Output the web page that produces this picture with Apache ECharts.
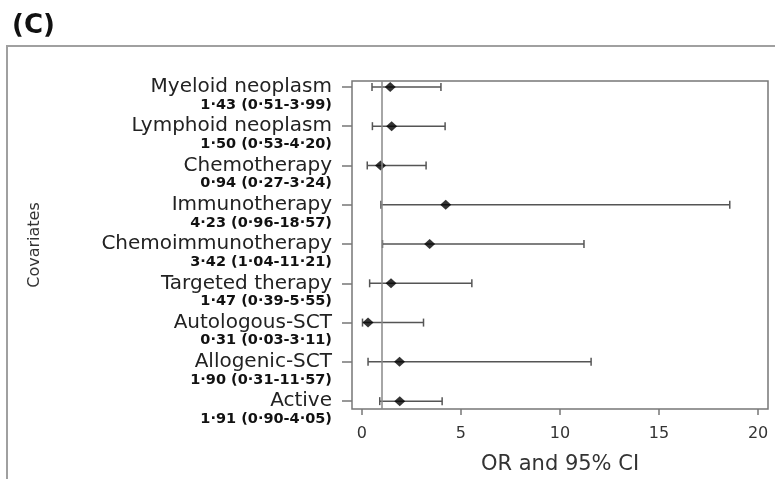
<!DOCTYPE html>
<html>
<head>
<meta charset="utf-8">
<script src="https://cdn.jsdelivr.net/npm/echarts@6/dist/echarts.min.js"></script>
<style>html,body{margin:0;padding:0;background:#fff}#c{width:775px;height:479px}</style>
</head>
<body>
<div id="c"></div>
<script>
const covariates = ['Myeloid neoplasm','Lymphoid neoplasm','Chemotherapy','Immunotherapy','Chemoimmunotherapy','Targeted therapy','Autologous-SCT','Allogenic-SCT','Active'];
const orValues = [1.43, 1.50, 0.94, 4.23, 3.42, 1.47, 0.31, 1.90, 1.91];
const ciLower  = [0.51, 0.53, 0.27, 0.96, 1.04, 0.39, 0.03, 0.31, 0.90];
const ciUpper  = [3.99, 4.20, 3.24, 18.57, 11.21, 5.55, 3.11, 11.57, 4.05];
const xTicks = [0, 5, 10, 15, 20];
const refValue = 1;

const fmt = v => v.toFixed(2).replace('.', '\u00b7');
const ciText = covariates.map((c, i) => fmt(orValues[i]) + ' (' + fmt(ciLower[i]) + '-' + fmt(ciUpper[i]) + ')');
const rowIdx = covariates.map((c, i) => i);

const chart = echarts.init(document.getElementById('c'), null, {renderer: 'canvas'});
const FONT = 'DejaVu Sans';
const yBase = {
  type: 'value', inverse: true, min: -0.15, max: 8.2, position: 'left',
  axisLine: {show: false, onZero: false},
  splitLine: {show: false}
};
chart.setOption({
  animation: false,
  backgroundColor: '#fff',
  graphic: [
    {type: 'rect', shape: {x: 7, y: 46, width: 820, height: 520}, style: {fill: 'none', stroke: '#a0a0a0', lineWidth: 2}, silent: true},
    {type: 'text', left: 12, top: 13, style: {text: '(C)', font: 'bold 26px "DejaVu Sans"', fill: '#111'}}
  ],
  grid: {left: 352, right: 7, top: 81, bottom: 70, outerBoundsMode: 'none', containLabel: false, show: true, borderColor: '#777', borderWidth: 1.5, backgroundColor: 'transparent'},
  xAxis: {
    type: 'value', min: -0.5, max: 20.5,
    name: 'OR and 95% CI', nameLocation: 'middle', nameGap: 45,
    nameTextStyle: {fontFamily: FONT, fontSize: 21, color: '#333'},
    axisLine: {show: false, onZero: false},
    splitLine: {show: false},
    axisTick: {show: true, length: 6, customValues: xTicks, lineStyle: {color: '#777', width: 1.5}},
    axisLabel: {customValues: xTicks, margin: 17, fontFamily: FONT, fontSize: 16, color: '#333', showMinLabel: true, showMaxLabel: true}
  },
  yAxis: [
    Object.assign({}, yBase, {
      name: 'Covariates', nameLocation: 'middle', nameGap: 309, nameRotate: 90,
      nameTextStyle: {fontFamily: FONT, fontSize: 16, color: '#333'},
      axisTick: {show: true, length: 10, customValues: rowIdx, lineStyle: {color: '#777', width: 1.5}},
      axisLabel: {
        customValues: rowIdx, margin: 20, showMinLabel: true, showMaxLabel: true,
        formatter: v => covariates[v],
        fontFamily: FONT, fontSize: 20, lineHeight: 20, color: '#222'
      }
    }),
    Object.assign({}, yBase, {
      axisTick: {show: false},
      axisLabel: {
        customValues: rowIdx, margin: 20, verticalAlign: 'top', showMinLabel: true, showMaxLabel: true,
        formatter: v => ciText[v],
        fontFamily: FONT, fontSize: 14.5, fontWeight: 'bold', lineHeight: 36, color: '#111'
      }
    })
  ],
  series: [
    {
      type: 'custom',
      data: covariates.map((c, i) => [ciLower[i], ciUpper[i], i]),
      encode: {x: [0, 1], y: 2},
      renderItem: (params, api) => {
        const a = api.coord([api.value(0), api.value(2)]);
        const b = api.coord([api.value(1), api.value(2)]);
        const st = {stroke: '#555', lineWidth: 1.5};
        const h = 4;
        return {type: 'group', children: [
          {type: 'line', shape: {x1: a[0], y1: a[1], x2: b[0], y2: b[1]}, style: st},
          {type: 'line', shape: {x1: a[0], y1: a[1] - h, x2: a[0], y2: a[1] + h}, style: st},
          {type: 'line', shape: {x1: b[0], y1: b[1] - h, x2: b[0], y2: b[1] + h}, style: st}
        ]};
      },
      z: 2
    },
    {
      type: 'scatter',
      data: covariates.map((c, i) => [orValues[i], i]),
      symbol: 'diamond', symbolSize: [11, 10],
      itemStyle: {color: '#000'},
      z: 3,
      markLine: {
        silent: true, symbol: 'none', label: {show: false},
        lineStyle: {color: '#888', width: 1.5, type: 'solid'},
        data: [{xAxis: refValue}]
      }
    }
  ]
});
</script>
</body>
</html>
